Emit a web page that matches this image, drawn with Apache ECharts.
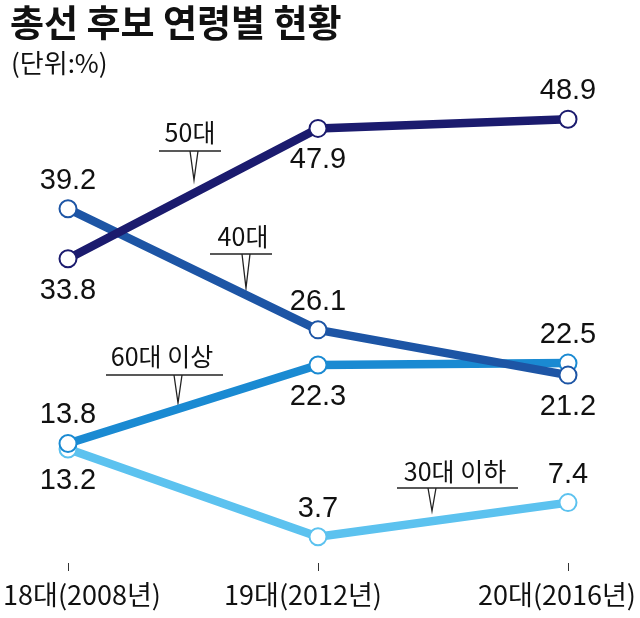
<!DOCTYPE html>
<html><head><meta charset="utf-8">
<script src="https://cdn.jsdelivr.net/npm/echarts@6/dist/echarts.min.js"></script>
<style>html,body{margin:0;padding:0;background:#fff}#c{width:640px;height:618px}</style>
</head><body><div id="c"></div>
<script>
const categories = ['18대(2008년)', '19대(2012년)', '20대(2016년)'];
const seriesNames = ['30대 이하', '60대 이상', '40대', '50대'];
const v30 = [13.2, 3.7, 7.4];
const v60 = [13.8, 22.3, 22.5];
const v40 = [39.2, 26.1, 21.2];
const v50 = [33.8, 47.9, 48.9];
const title = '총선 후보 연령별 현황';
const unit = '(단위:%)';

const pos30 = ['bottom', 'top', 'top'];
const pos60 = ['top', 'bottom', 'top'];
const pos40 = ['top', 'top', 'bottom'];
const pos50 = ['bottom', 'bottom', 'top'];

const colors = ['#5cc2ef', '#1a8ad2', '#1d55a5', '#1b1b6e'];
const numFont = '"Liberation Sans", Arial, sans-serif';
const krFont = '"Noto Sans CJK KR", sans-serif';

function mk(vals, pos) {
  return vals.map((v, i) => ({
    value: v,
    label: { position: pos[i], distance: pos[i] === 'top' ? 4 : 8 }
  }));
}
function ser(name, vals, pos, color, z) {
  return {
    name: name, type: 'line', data: mk(vals, pos), z: z,
    lineStyle: { color: color, width: 8.5 },
    itemStyle: { color: '#fff', borderColor: color, borderWidth: 2 },
    symbol: 'circle', symbolSize: 17, showSymbol: true,
    label: { show: true, color: '#111', fontFamily: numFont, fontSize: 29 },
    emphasis: { disabled: true },
    animation: false
  };
}

const chart = echarts.init(document.getElementById('c'), null, { renderer: 'canvas' });

function callout(text, cx, cy, x1, x2, hy, vx, tipY) {
  return {
    type: 'group', children: [
      { type: 'text', style: { text: text, x: cx, y: cy, fill: '#111', font: '25px ' + krFont, textAlign: 'center', textVerticalAlign: 'middle' } },
      { type: 'line', shape: { x1: x1, y1: hy, x2: x2, y2: hy }, style: { stroke: '#222', lineWidth: 1.3 } },
      { type: 'polyline', shape: { points: [[vx - 4, hy], [vx, tipY], [vx + 4, hy]] }, style: { stroke: '#222', lineWidth: 1.3, fill: null } }
    ]
  };
}

chart.setOption({
  backgroundColor: '#fff',
  animation: false,
  title: [
    { text: title, left: 5, top: -1, textStyle: { fontFamily: krFont, fontSize: 37, fontWeight: 'bold', color: '#111' } },
    { text: unit, left: 6, top: 45, textStyle: { fontFamily: krFont, fontSize: 26, fontWeight: 'normal', color: '#111' } }
  ],
  grid: { left: 68, right: 72, top: 109, bottom: 47 },
  xAxis: {
    type: 'category', data: categories, boundaryGap: false, offset: 4,
    axisLine: { show: false },
    axisTick: { show: true, inside: true, length: 8, lineStyle: { color: '#333', width: 1 } },
    axisLabel: {
      interval: 0, margin: 6, color: '#111', fontFamily: krFont, fontSize: 27,
      formatter: (v, i) => '{p' + i + '|' + v + '}',
      rich: {
        p0: { fontFamily: krFont, fontSize: 27, color: '#111', padding: [0, 0, 0, 28] },
        p1: { fontFamily: krFont, fontSize: 27, color: '#111', padding: [0, 30, 0, 0] },
        p2: { fontFamily: krFont, fontSize: 27, color: '#111', padding: [0, 22, 0, 0] }
      }
    }
  },
  yAxis: { type: 'value', min: 0, max: 50, show: false, splitLine: { show: false } },
  series: [
    ser(seriesNames[0], v30, pos30, colors[0], 2),
    ser(seriesNames[1], v60, pos60, colors[1], 3),
    ser(seriesNames[2], v40, pos40, colors[2], 4),
    ser(seriesNames[3], v50, pos50, colors[3], 5)
  ],
  graphic: [
    callout('50대', 190, 132, 159, 221, 151, 194, 180),
    callout('40대', 243, 236, 210, 272, 254, 246, 288),
    callout('60대 이상', 162, 356, 106, 223, 375, 178, 403),
    callout('30대 이하', 455, 471, 397, 518, 488, 432, 511)
  ]
});
</script></body></html>
